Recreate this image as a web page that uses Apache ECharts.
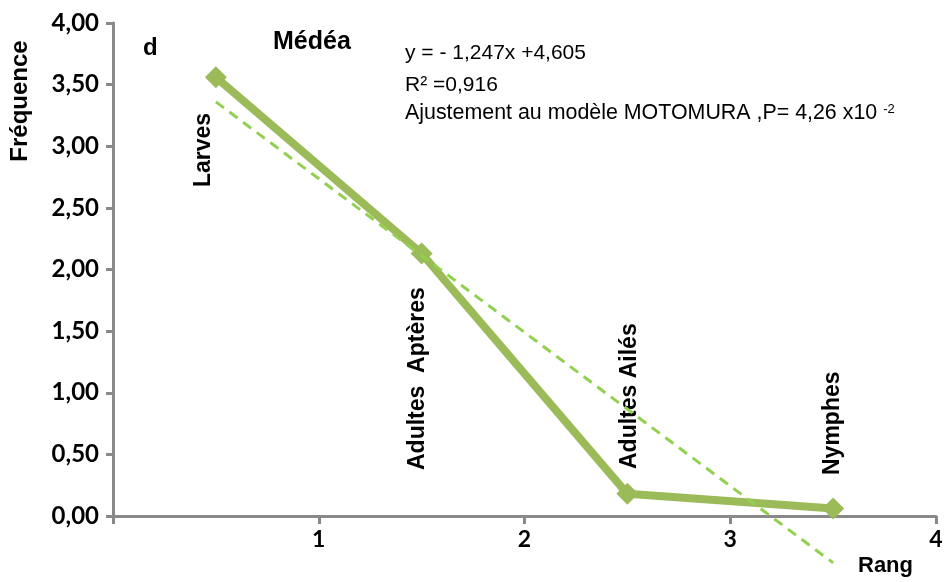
<!DOCTYPE html>
<html>
<head>
<meta charset="utf-8">
<script src="https://cdn.jsdelivr.net/npm/echarts@6/dist/echarts.min.js"></script>
<style>
  html, body { margin: 0; padding: 0; background: #ffffff; }
  #chart { width: 947px; height: 582px; }
</style>
</head>
<body>
<div id="chart"></div>
<script>
// Rank position of each stage on the x axis and its frequency
const rankPos = [0.5, 1.5, 2.5, 3.5];
const categories = ['Larves', 'Adultes  Aptères', 'Adultes Ailés', 'Nymphes'];
const frequence = [3.56, 2.13, 0.18, 0.06];

// Linear trend (y = -1,247x + 4,605) end points
const trendX = [0.5, 3.5];
const trendY = [3.36, -0.38];

// Annotation lines
const equationLines = ['y = - 1,247x +4,605', 'R² =0,916', 'Ajustement au modèle MOTOMURA ,P= 4,26 x10 '];
const exponentText = '-2';

const chart = echarts.init(document.getElementById('chart'), null, { renderer: 'canvas' });

const axisGray = '#898989';
const mainGreen = '#9BBB59';
const trendGreen = '#92D050';
const tickFont = 'Lato, "DejaVu Sans", sans-serif';
const textFont = '"Liberation Sans", Arial, sans-serif';

// Rotated stage labels: [x center, bottom y]
const labelAnchors = [[204, 187], [418, 470], [630, 469], [833, 475]];

const graphics = [
  { type: 'text', x: 20, y: 101, rotation: Math.PI / 2,
    style: { text: 'Fréquence', font: 'bold 24px ' + textFont, fill: '#000', align: 'center', verticalAlign: 'middle' } },
  { type: 'text', x: 143, y: 48,
    style: { text: 'd', font: 'bold 24px ' + textFont, fill: '#000', align: 'left', verticalAlign: 'middle' } },
  { type: 'text', x: 273, y: 42,
    style: { text: 'Médéa', font: 'bold 25px ' + textFont, fill: '#000', align: 'left', verticalAlign: 'middle' } },
  { type: 'text', x: 858, y: 566,
    style: { text: 'Rang', font: 'bold 22px ' + textFont, fill: '#000', align: 'left', verticalAlign: 'middle' } },
  { type: 'text', x: 405, y: 53,
    style: { text: equationLines[0], font: '21px ' + textFont, fill: '#000', align: 'left', verticalAlign: 'middle' } },
  { type: 'text', x: 405, y: 85,
    style: { text: equationLines[1], font: '21px ' + textFont, fill: '#000', align: 'left', verticalAlign: 'middle' } },
  { type: 'text', x: 405, y: 113,
    style: {
      text: '{m|' + equationLines[2] + '}{s|' + exponentText + '}',
      rich: {
        m: { font: '21.4px ' + textFont, fill: '#000', verticalAlign: 'bottom' },
        s: { font: '13px ' + textFont, fill: '#000', verticalAlign: 'top' }
      },
      align: 'left', verticalAlign: 'middle'
    } }
];

categories.forEach((name, i) => {
  graphics.push({
    type: 'text', x: labelAnchors[i][0], y: labelAnchors[i][1], rotation: Math.PI / 2,
    style: { text: name, font: 'bold 23px ' + textFont, fill: '#000', align: 'left', verticalAlign: 'middle' }
  });
});

const option = {
  animation: false,
  backgroundColor: '#ffffff',
  grid: { left: 113, right: 11, top: 23, bottom: 66, containLabel: false },
  xAxis: {
    type: 'value', min: 0, max: 4, interval: 1,
    axisLine: { show: true, lineStyle: { color: axisGray, width: 3 } },
    axisTick: { show: true, length: 8, lineStyle: { color: axisGray, width: 3 } },
    splitLine: { show: false },
    axisLabel: {
      margin: 12, color: '#000', fontFamily: tickFont, fontWeight: 'bold', fontSize: 23,
      formatter: v => (v === 0 ? '' : String(v))
    }
  },
  yAxis: {
    type: 'value', min: 0, max: 4, interval: 0.5,
    axisLine: { show: true, lineStyle: { color: axisGray, width: 3 } },
    axisTick: { show: true, length: 7, lineStyle: { color: axisGray, width: 3 } },
    splitLine: { show: false },
    axisLabel: {
      margin: 14, color: '#000', fontFamily: tickFont, fontWeight: 'bold', fontSize: 24,
      formatter: v => v.toFixed(2).replace('.', ',')
    }
  },
  series: [
    {
      type: 'line',
      data: rankPos.map((x, i) => [x, frequence[i]]),
      symbol: 'diamond', symbolSize: 22,
      lineStyle: { color: mainGreen, width: 8 },
      itemStyle: { color: mainGreen },
      z: 2
    },
    {
      type: 'line',
      data: trendX.map((x, i) => [x, trendY[i]]),
      symbol: 'none',
      clip: false,
      lineStyle: { color: trendGreen, width: 3, type: [10, 7] },
      z: 3
    }
  ],
  graphic: graphics
};

chart.setOption(option);
</script>
</body>
</html>
